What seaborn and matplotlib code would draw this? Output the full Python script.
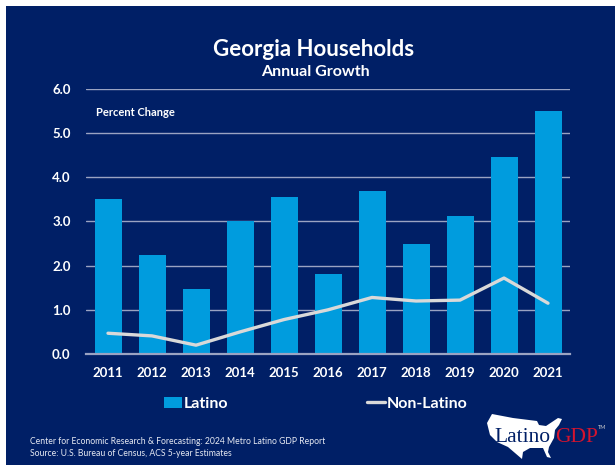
import matplotlib
matplotlib.use("Agg")
import matplotlib.pyplot as plt
from matplotlib.lines import Line2D
from matplotlib.patches import Patch, Polygon, Rectangle
import pandas as pd
import seaborn as sns

years = ["2011", "2012", "2013", "2014", "2015", "2016", "2017", "2018", "2019", "2020", "2021"]
latino = [3.5, 2.25, 1.48, 3.0, 3.55, 1.8, 3.7, 2.48, 3.12, 4.45, 5.5]
non_latino = [0.47, 0.41, 0.2, 0.5, 0.78, 1.0, 1.28, 1.2, 1.22, 1.72, 1.15]
y_ticks = [0, 1, 2, 3, 4, 5, 6]

NAVY = "#001f66"
BLUE = "#009cde"
LINE = "#d9d9d9"
GRID = "#9aa3c2"
W, H = 615, 465

sns.set_theme(style="white")
plt.rcParams["font.family"] = ["Lato", "DejaVu Sans"]
plt.rcParams["font.weight"] = "bold"

frame = pd.DataFrame({"year": years, "latino": latino, "non_latino": non_latino})

fig = plt.figure(figsize=(W / 100, H / 100), dpi=100, facecolor="white")


def fx(px):
    return px / W


def fy(py):
    return 1 - py / H


# Navy slide background with a thin white margin at the top and left
fig.add_artist(Rectangle((fx(6), 0), 1 - fx(6), fy(6), transform=fig.transFigure,
                         facecolor=NAVY, edgecolor="none", zorder=-5))

ax = fig.add_axes([fx(86), fy(354), fx(570 - 86), (354 - 89) / H])
ax.patch.set_alpha(0)

sns.barplot(data=frame, x="year", y="latino", color=BLUE, saturation=1,
            width=27 / 44, linewidth=0, edgecolor="none", ax=ax, zorder=2)
sns.lineplot(data=frame, x="year", y="non_latino", color=LINE, linewidth=2.4,
             ax=ax, zorder=3)

ax.set_xlim(-0.5, 10.5)
ax.set_ylim(0, 6)
ax.set_yticks(y_ticks)
ax.set_yticklabels([f"{v:.1f}" for v in y_ticks])
ax.set_xlabel("")
ax.set_ylabel("")
ax.tick_params(axis="both", length=0, colors="white", labelsize=9.5)
ax.tick_params(axis="x", pad=9.5)
ax.tick_params(axis="y", pad=11)
ax.grid(axis="y", color=GRID, linewidth=1)
ax.set_axisbelow(True)
for side in ("top", "right", "left"):
    ax.spines[side].set_visible(False)
ax.spines["bottom"].set_color(GRID)
ax.spines["bottom"].set_linewidth(1.6)
ax.spines["bottom"].set_zorder(4)

fig.text(fx(314), fy(49), "Georgia Households", color="white", fontsize=16,
         ha="center", va="center")
fig.text(fx(315), fy(72), "Annual Growth", color="white", fontsize=11.5,
         ha="center", va="center")
fig.text(fx(96), fy(112), "Percent Change", color="white", fontsize=8,
         ha="left", va="center")

handles = [Patch(facecolor=BLUE, edgecolor="none"),
           Line2D([0], [0], color=LINE, linewidth=2.4)]
fig.legend(handles, ["Latino", "Non-Latino"], ncol=2, frameon=False,
           loc="center", bbox_to_anchor=(fx(316), fy(404)),
           labelcolor="white", fontsize=11.5, columnspacing=8.7,
           handlelength=1.1, handletextpad=0.12, handleheight=0.75,
           borderpad=0, borderaxespad=0)

fig.text(fx(30), fy(441), "Center for Economic Research & Forecasting: 2024 Metro Latino GDP Report",
         color="#e6e9f2", fontsize=6.25, weight="normal", ha="left", va="center")
fig.text(fx(30), fy(453), "Source: U.S. Bureau of Census, ACS 5-year Estimates",
         color="#e6e9f2", fontsize=6.25, weight="normal", ha="left", va="center")

# LatinoGDP wordmark over a white silhouette of the United States
outline = [(492, 414), (513, 418), (537, 421), (539, 425), (546, 426), (552, 422),
           (558, 418), (562, 419), (559, 425), (555, 430), (554, 438), (549, 447),
           (548, 452), (551, 458), (547, 457), (543, 448), (530, 448), (523, 452),
           (522, 459), (515, 453), (508, 447), (497, 442), (490, 435), (487, 423)]
fig.add_artist(Polygon([(fx(x), fy(y)) for x, y in outline], closed=True,
                       transform=fig.transFigure, facecolor="white", edgecolor="none"))
fig.text(fx(494), fy(442), "Latino", color=NAVY, fontsize=15.5, family="Liberation Serif",
         weight="normal", ha="left", va="baseline")
fig.text(fx(555), fy(442), "GDP", color="#d5142e", fontsize=15.5, family="Liberation Serif",
         weight="normal", ha="left", va="baseline")
fig.text(fx(598), fy(427), "TM", color="#d0d0d0", fontsize=4, weight="normal",
         ha="left", va="center")

fig.savefig("out.png", dpi=100, facecolor="white")
